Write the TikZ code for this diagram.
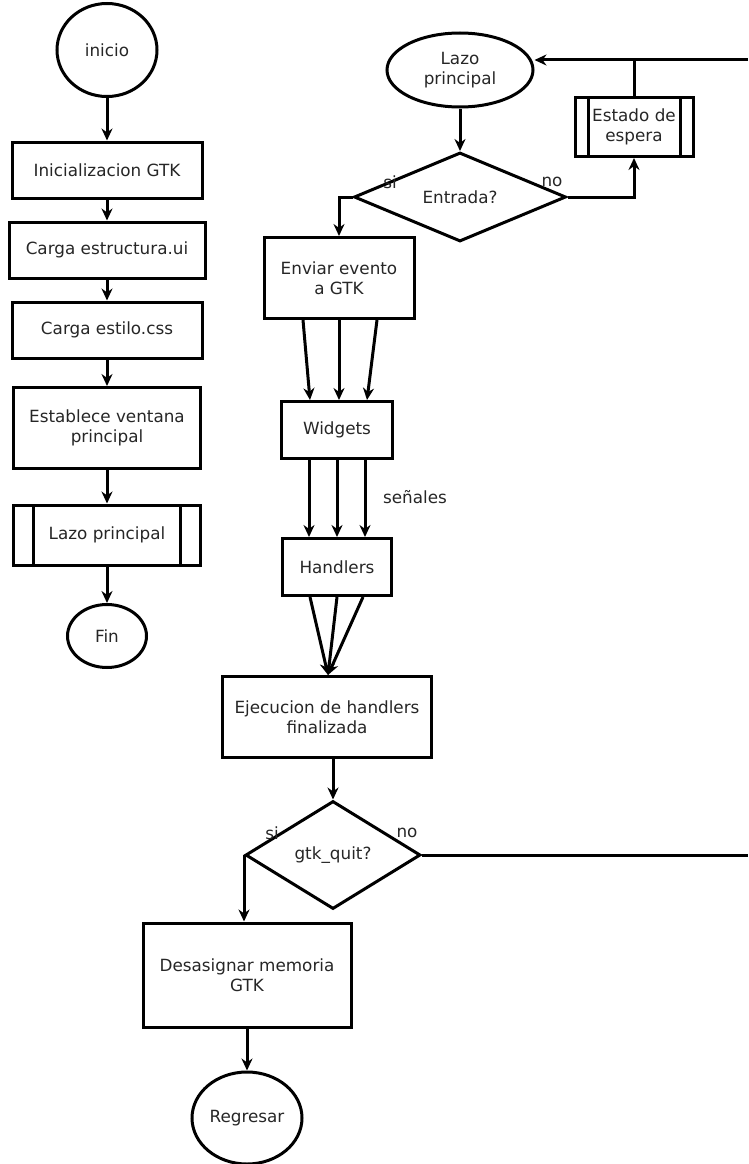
\documentclass[tikz,border=0pt]{standalone}
\usepackage{fontspec}
\setmainfont{DejaVu Sans}
\usetikzlibrary{arrows.meta,positioning,shapes.geometric}

\begin{document}
\begin{tikzpicture}[x=1pt, y=-1pt,
  font=\fontsize{16.8}{20}\selectfont, >={Stealth[length=12pt, width=11pt]},
  line width=3pt,
  box/.style={draw, align=center, inner sep=0pt, text=black!85},
  term/.style={draw, ellipse, align=center, inner sep=0pt, text=black!85},
  dec/.style={draw, diamond, aspect=2, inner sep=0pt, text=black!85},
  sub/.style={box, path picture={
      \draw ([xshift=#1]path picture bounding box.north west) -- ([xshift=#1]path picture bounding box.south west);
      \draw ([xshift=-#1]path picture bounding box.north east) -- ([xshift=-#1]path picture bounding box.south east);}},
  flow/.style={->},
  lab/.style={text=black!85}]
\useasboundingbox (0,0) rectangle (748,1164);
% columna izquierda
\node[term, minimum width=100pt, minimum height=93pt] (inicio) at (107,50) {inicio};
\node[box, minimum width=190pt, minimum height=56pt] (init) at (107,170) {Inicializacion GTK};
\node[box, minimum width=196pt, minimum height=56pt] (estr) at (107,250) {Carga estructura.ui};
\node[box, minimum width=190pt, minimum height=56pt] (css) at (107,330) {Carga estilo.css};
\node[box, minimum width=187pt, minimum height=81pt] (vent) at (107,428) {Establece ventana\\principal};
\node[sub=20pt, minimum width=187pt, minimum height=60pt] (lazoa) at (107,535) {Lazo principal};
\node[term, minimum width=79pt, minimum height=63pt] (fin) at (107,636) {Fin};
% lazo principal
\node[term, minimum width=146pt, minimum height=74pt] (lazob) at (460,70) {Lazo\\principal};
\node[dec, minimum width=212pt, minimum height=89pt] (entrada) at (460,197) {Entrada?};
\node[sub=13pt, minimum width=118pt, minimum height=59pt] (estado) at (634,127) {Estado de\\espera};
\node[box, minimum width=150pt, minimum height=81pt] (enviar) at (339,278) {Enviar evento\\a GTK};
\node[box, minimum width=111pt, minimum height=57pt] (widgets) at (337,430) {Widgets};
\node[box, minimum width=109pt, minimum height=57pt] (handlers) at (337,567) {Handlers};
\node[box, minimum width=209pt, minimum height=81pt] (ejec) at (327,717) {Ejecucion de handlers\\finalizada};
\node[dec, minimum width=175pt, minimum height=108pt] (gtk) at (333,855) {gtk\_quit?};
\node[box, minimum width=208pt, minimum height=104pt] (desas) at (247,975) {Desasignar memoria\\GTK};
\node[term, minimum width=110pt, minimum height=92pt] (regresar) at (247,1118) {Regresar};
% etiquetas
\node[lab] (si1) at (390,182) {si};
\node[lab] (no1) at (552,182) {no};
\node[lab] (si2) at (272,833) {si};
\node[lab] (no2) at (407,833) {no};
\node[lab] (senales) at (415,497) {señales};
\coordinate (r1) at (748,60);
\coordinate (r2) at (748,855);

\draw[flow] (inicio) -- (init);
\draw[flow] (init) -- (estr);
\draw[flow] (estr) -- (css);
\draw[flow] (css) -- (vent);
\draw[flow] (vent) -- (lazoa);
\draw[flow] (lazoa) -- (fin);

\draw[flow] (lazob) -- (entrada);
\draw[flow] (entrada.west) -| (enviar.north);
\draw[flow] (entrada.east) -| (estado.south);
\draw (estado.north) -- (estado.north |- r1);
\draw[flow] (r1) -- (lazob.east |- r1);
\draw[flow] ([xshift=-36pt]enviar.south) -- ([xshift=-27pt]widgets.north);
\draw[flow] (enviar.south) -- ([xshift=2pt]widgets.north);
\draw[flow] ([xshift=38pt]enviar.south) -- ([xshift=30pt]widgets.north);
\draw[flow] ([xshift=-28pt]widgets.south) -- ([xshift=-28pt]handlers.north);
\draw[flow] (widgets.south) -- (handlers.north);
\draw[flow] ([xshift=28pt]widgets.south) -- ([xshift=28pt]handlers.north);
\draw[flow] ([xshift=-27pt]handlers.south) -- ([xshift=1pt]ejec.north);
\draw[flow] (handlers.south) -- ([xshift=1pt]ejec.north);
\draw[flow] ([xshift=26pt]handlers.south) -- ([xshift=1pt]ejec.north);
\draw[flow] (gtk.north |- ejec.south) -- (gtk.north);
\draw[flow] (gtk.west) -- (gtk.west |- desas.north);
\draw (gtk.east) -- (r2);
\draw[flow] (desas) -- (regresar);
\end{tikzpicture}
\end{document}
